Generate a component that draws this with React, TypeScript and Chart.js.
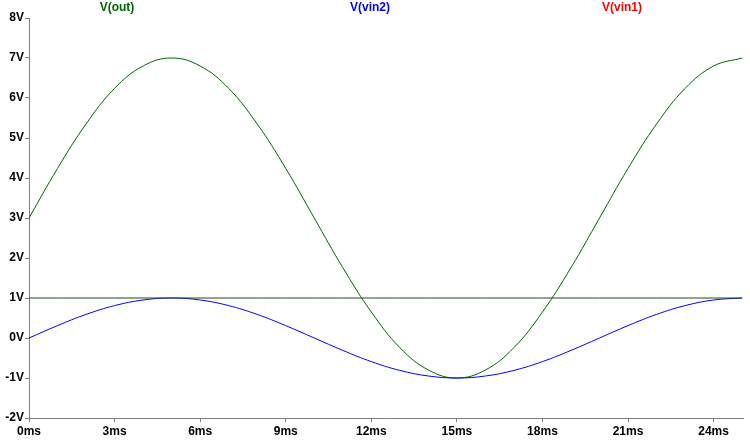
import React, { useEffect, useRef } from "react";
import { Chart, registerables } from "chart.js";
Chart.register(...registerables);

const timeMs = [0,1,2,3,4,5,6,7,8,9,10,11,12,13,14,15,16,17,18,19,20,21,22,23,24,25];
const vOut = [3,4.24,5.35,6.24,6.8,7,6.8,6.24,5.35,4.24,3,1.76,0.65,-0.24,-0.8,-1,-0.8,-0.24,0.65,1.76,3,4.24,5.35,6.24,6.8,7];
const vVin2 = [0,0.31,0.59,0.81,0.95,1,0.95,0.81,0.59,0.31,0,-0.31,-0.59,-0.81,-0.95,-1,-0.95,-0.81,-0.59,-0.31,0,0.31,0.59,0.81,0.95,1];
const vVin1 = [1,1,1,1,1,1,1,1,1,1,1,1,1,1,1,1,1,1,1,1,1,1,1,1,1,1];
const xTicks = [0,3,6,9,12,15,18,21,24];
const titles = [
  { text: "V(out)", color: "#006400", x: 117 },
  { text: "V(vin2)", color: "#0000ff", x: 370 },
  { text: "V(vin1)", color: "#ff0000", x: 622 },
];

export default function App() {
  const ref = useRef<HTMLCanvasElement>(null);
  useEffect(() => {
    document.body.style.margin = "0";
    const pts = (a: number[]) => a.map((y, i) => ({ x: timeMs[i], y }));
    const titlePlugin = {
      id: "titles",
      afterDraw(c: any) {
        const ctx = c.ctx;
        ctx.save();
        ctx.font = "bold 12px Arial, 'Liberation Sans'";
        ctx.textAlign = "center";
        ctx.textBaseline = "middle";
        titles.forEach((t) => { ctx.fillStyle = t.color; ctx.fillText(t.text, t.x, 8); });
        ctx.restore();
      },
    };
    const chart = new Chart(ref.current!, {
      type: "line",
      data: {
        datasets: [
          { data: pts(vVin1), borderColor: "#1e4a1e", borderWidth: 1, pointRadius: 0 },
          { data: pts(vVin2), borderColor: "#0000ff", borderWidth: 1, pointRadius: 0, tension: 0.4 },
          { data: pts(vOut), borderColor: "#006400", borderWidth: 1, pointRadius: 0, tension: 0.4 },
        ],
      },
      options: {
        animation: false,
        responsive: false,
        layout: { padding: { top: 18, right: 7, left: 0, bottom: 0 } },
        plugins: { legend: { display: false }, tooltip: { enabled: false } },
        scales: {
          x: {
            type: "linear", min: 0, max: 25.03,
            border: { color: "#808080" },
            grid: { drawOnChartArea: false, tickLength: 4, color: "#808080" },
            afterBuildTicks: (s: any) => { s.ticks = xTicks.map((v) => ({ value: v })); },
            ticks: { maxRotation: 0, autoSkip: false, color: "#000", font: { family: "Arial, 'Liberation Sans'", size: 12, weight: "bold" }, padding: 2, callback: (v: any) => v + "ms" },
            afterFit: (s: any) => { s.height = 26; s.paddingRight = 0; },
          },
          y: {
            min: -2, max: 8,
            border: { color: "#808080" },
            grid: { drawOnChartArea: false, tickLength: 4, color: "#808080" },
            ticks: { stepSize: 1, color: "#000", font: { family: "Arial, 'Liberation Sans'", size: 12, weight: "bold" }, padding: 1, callback: (v: any) => v + "V" },
            afterFit: (s: any) => { s.width = 29; },
          },
        },
      } as any,
      plugins: [titlePlugin],
    });
    return () => chart.destroy();
  }, []);
  return <canvas ref={ref} width={750} height={444} style={{ display: "block", background: "#fff" }} />;
}
